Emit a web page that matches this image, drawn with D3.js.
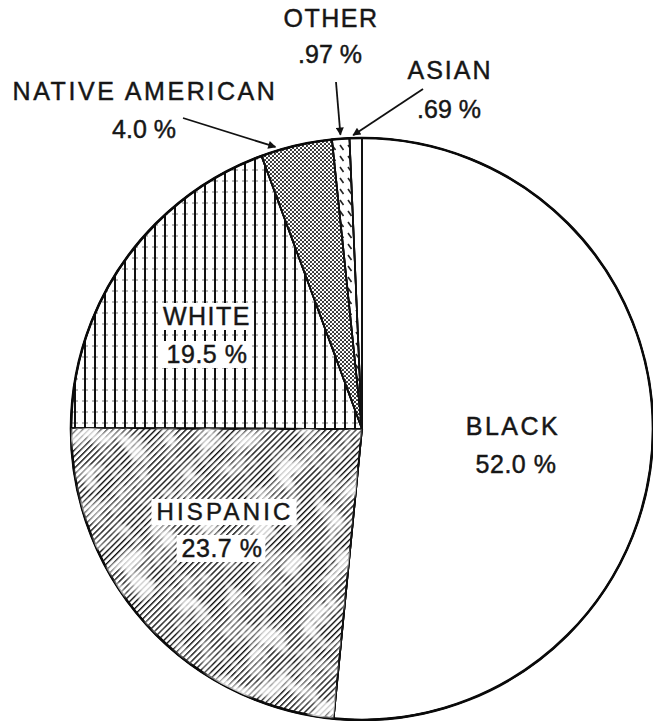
<!DOCTYPE html>
<html>
<head>
<meta charset="utf-8">
<script src="https://cdn.jsdelivr.net/npm/d3@7"></script>
<style>
  html, body { margin: 0; padding: 0; background: #fff; }
  svg { display: block; }
  text { font-family: "Liberation Sans", Arial, Helvetica, sans-serif; fill: #161616; stroke: #161616; stroke-width: 0.45px; }
</style>
</head>
<body>
<svg id="chart" width="653" height="721"></svg>
<script>
// ---- data ----
const categories = ["BLACK", "HISPANIC", "WHITE", "NATIVE AMERICAN", "OTHER", "ASIAN"];
const values = [52.0, 23.7, 19.5, 4.0, 0.97, 0.69];
const valueLabels = ["52.0 %", "23.7 %", "19.5 %", "4.0 %", ".97 %", ".69 %"];

// ---- layout ----
const W = 653, H = 721;
const cx = 362, cy = 429, R = 291;
const svg = d3.select("#chart");
const defs = svg.append("defs");

// patterns
const pHisp = defs.append("pattern").attr("id", "p-hisp").attr("patternUnits", "userSpaceOnUse")
  .attr("width", 4.3).attr("height", 4.3).attr("patternTransform", "rotate(45)");
pHisp.append("rect").attr("width", 4.3).attr("height", 4.3).attr("fill", "#fff");
pHisp.append("line").attr("x1", 0).attr("y1", 0).attr("x2", 0).attr("y2", 4.3)
  .attr("stroke", "#111").attr("stroke-width", 2.8);

const pWhite = defs.append("pattern").attr("id", "p-white").attr("patternUnits", "userSpaceOnUse")
  .attr("width", 10).attr("height", 11).attr("x", 2).attr("y", 0);
pWhite.append("rect").attr("width", 10).attr("height", 11).attr("fill", "#fff");
pWhite.append("line").attr("x1", 0).attr("y1", 5).attr("x2", 10).attr("y2", 5)
  .attr("stroke", "#666").attr("stroke-width", 0.9).attr("stroke-dasharray", "4,4");
pWhite.append("line").attr("x1", 1).attr("y1", 0).attr("x2", 1).attr("y2", 11)
  .attr("stroke", "#111").attr("stroke-width", 2);

const pNative = defs.append("pattern").attr("id", "p-native").attr("patternUnits", "userSpaceOnUse")
  .attr("width", 4).attr("height", 4);
pNative.append("rect").attr("width", 4).attr("height", 4).attr("fill", "#fff");
pNative.append("circle").attr("cx", 1).attr("cy", 1).attr("r", 1.05).attr("fill", "#222");
pNative.append("circle").attr("cx", 3).attr("cy", 3).attr("r", 1.05).attr("fill", "#222");

const pOther = defs.append("pattern").attr("id", "p-other").attr("patternUnits", "userSpaceOnUse")
  .attr("width", 8).attr("height", 11);
pOther.append("rect").attr("width", 8).attr("height", 11).attr("fill", "#fff");
pOther.append("line").attr("x1", 2).attr("y1", 2).attr("x2", 5.5).attr("y2", 7)
  .attr("stroke", "#222").attr("stroke-width", 1.6);

const fills = ["#fff", "url(#p-hisp)", "url(#p-white)", "url(#p-native)", "url(#p-other)", "#fff"];

// mottled texture for the hispanic slice
const f = defs.append("filter").attr("id", "mottle").attr("x", 0).attr("y", 0)
  .attr("width", "100%").attr("height", "100%").attr("filterUnits", "userSpaceOnUse");
f.append("feTurbulence").attr("type", "fractalNoise").attr("baseFrequency", 0.04)
  .attr("numOctaves", 3).attr("seed", 5).attr("result", "n");
f.append("feColorMatrix").attr("in", "n").attr("type", "matrix")
  .attr("values", "0 0 0 0 1  0 0 0 0 1  0 0 0 0 1  3.6 0 0 0 -1.6");

// ---- pie ----
const pie = d3.pie().sort(null).value(d => d.v).startAngle(0).endAngle(2 * Math.PI);
const data = categories.map((c, i) => ({ c, v: values[i], lab: valueLabels[i], fill: fills[i] }));
const arcs = pie(data);
const arc = d3.arc().innerRadius(0).outerRadius(R);

const g = svg.append("g").attr("transform", `translate(${cx},${cy})`);

g.selectAll("path.slice").data(arcs).join("path")
  .attr("class", "slice")
  .attr("d", arc)
  .attr("fill", d => d.data.fill)
  .attr("stroke", "#111").attr("stroke-width", 1.6).attr("stroke-linejoin", "round");

// mottling clipped to hispanic slice
defs.append("clipPath").attr("id", "clip-hisp").append("path")
  .attr("d", arc(arcs[1])).attr("transform", `translate(${cx},${cy})`);
svg.append("g").attr("clip-path", "url(#clip-hisp)")
  .append("rect").attr("x", 0).attr("y", 0).attr("width", W).attr("height", H)
  .attr("filter", "url(#mottle)").attr("opacity", 0.8);

// re-stroke slice borders on top
g.selectAll("path.edge").data(arcs).join("path")
  .attr("class", "edge")
  .attr("d", arc)
  .attr("fill", "none")
  .attr("stroke", "#111").attr("stroke-width", 1.7);

// outer circle
g.append("circle").attr("r", R).attr("fill", "none").attr("stroke", "#0a0a0a").attr("stroke-width", 2.6);

// ---- labels ----
function addText(str, x, y, size, ls, box) {
  const t = svg.append("text").attr("x", x).attr("y", y).attr("text-anchor", "middle")
    .attr("font-size", size).attr("letter-spacing", ls).text(str);
  if (box) {
    const b = t.node().getBBox();
    svg.insert("rect", () => t.node())
      .attr("x", b.x - 5).attr("y", b.y + 1).attr("width", b.width + 8).attr("height", b.height - 1)
      .attr("fill", "#fff");
  }
  return t;
}

// inside labels
addText(categories[0], 513, 435, 25, 2.5, false);
addText(valueLabels[0], 516, 473, 25, 0.5, false);
addText(categories[1], 225, 520, 24, 3.2, true);
addText(valueLabels[1], 222, 557, 25, 0.5, true);
addText(categories[2], 207, 325, 25, 1.5, true);
addText(valueLabels[2], 207, 363, 25, 0.5, true);

// outside labels
addText(categories[3], 145, 100, 25, 2.6, false);
addText(valueLabels[3], 144, 138, 25, 0, false);
addText(categories[4], 331, 27, 25, 1.5, false);
addText(valueLabels[4], 330, 63, 25, 0, false);
addText(categories[5], 450, 79, 25, 2, false);
addText(valueLabels[5], 449, 118, 25, 0, false);

// ---- arrows ----
defs.append("marker").attr("id", "arrow").attr("viewBox", "0 0 10 10")
  .attr("refX", 9).attr("refY", 5).attr("markerWidth", 10).attr("markerHeight", 8)
  .attr("markerUnits", "userSpaceOnUse").attr("orient", "auto")
  .append("path").attr("d", "M0,0 L10,5 L0,10 Z").attr("fill", "#111");

function tipAt(a, frac, rr) {
  const ang = a.startAngle + frac * (a.endAngle - a.startAngle);
  return [cx + rr * Math.sin(ang), cy - rr * Math.cos(ang)];
}
const arrows = [
  { from: [183, 118], to: tipAt(arcs[3], 0.22, R + 4) },
  { from: [336, 82], to: tipAt(arcs[4], 0.5, R + 4) },
  { from: [423, 89], to: tipAt(arcs[5], 0.3, R + 3) }
];
svg.selectAll("line.arrow").data(arrows).join("line")
  .attr("class", "arrow")
  .attr("x1", d => d.from[0]).attr("y1", d => d.from[1])
  .attr("x2", d => d.to[0]).attr("y2", d => d.to[1])
  .attr("stroke", "#111").attr("stroke-width", 1.8)
  .attr("marker-end", "url(#arrow)");
</script>
</body>
</html>
